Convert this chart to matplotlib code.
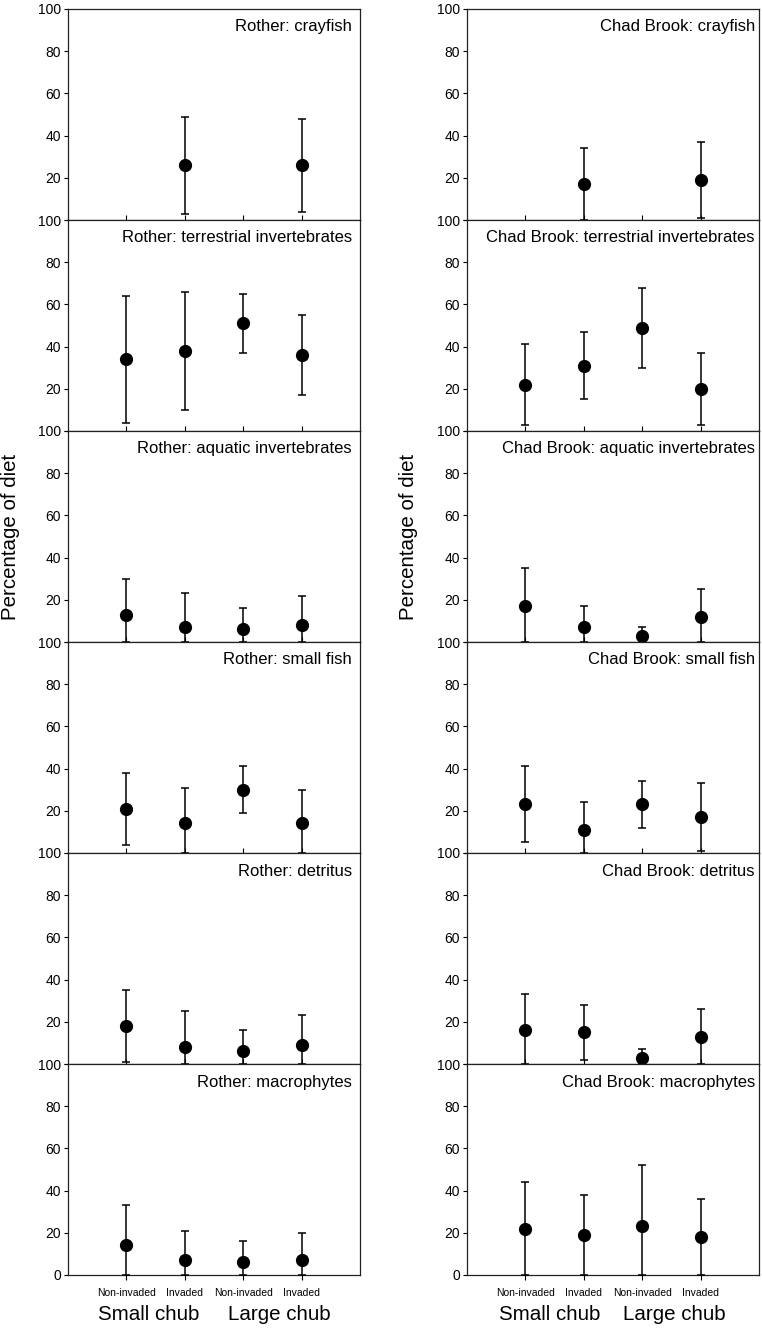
import numpy as np
import matplotlib
matplotlib.use("Agg")
import matplotlib.pyplot as plt

plt.rcParams['font.family'] = ['Liberation Sans', 'DejaVu Sans']

# ---------------- data ----------------
groups = ["Non-invaded", "Invaded", "Non-invaded", "Invaded"]
size_classes = ["Small chub", "Large chub"]
diet_items = ["crayfish", "terrestrial invertebrates", "aquatic invertebrates",
              "small fish", "detritus", "macrophytes"]
rivers = ["Rother", "Chad Brook"]

# mean, lower bound, upper bound (None = not present)
rother_mean = [[None, 26, None, 26], [34, 38, 51, 36], [13, 7, 6, 8],
               [21, 14, 30, 14], [18, 8, 6, 9], [14, 7, 6, 7]]
rother_low = [[None, 3, None, 4], [4, 10, 37, 17], [0, 0, 0, 0],
              [4, 0, 19, 0], [1, 0, 0, 0], [0, 0, 0, 0]]
rother_high = [[None, 49, None, 48], [64, 66, 65, 55], [30, 23, 16, 22],
               [38, 31, 41, 30], [35, 25, 16, 23], [33, 21, 16, 20]]

chad_mean = [[None, 17, None, 19], [22, 31, 49, 20], [17, 7, 3, 12],
             [23, 11, 23, 17], [16, 15, 3, 13], [22, 19, 23, 18]]
chad_low = [[None, 0, None, 1], [3, 15, 30, 3], [0, 0, 0, 0],
            [5, 0, 12, 1], [0, 2, 0, 0], [0, 0, 0, 0]]
chad_high = [[None, 34, None, 37], [41, 47, 68, 37], [35, 17, 7, 25],
             [41, 24, 34, 33], [33, 28, 7, 26], [44, 38, 52, 36]]

yticks = [0, 20, 40, 60, 80, 100]

# ---------------- layout ----------------
W, H = 762, 1328
fig = plt.figure(figsize=(W / 100, H / 100), dpi=100)

col_left = [68, 467]
col_width = 292
top0 = 9
panel_h = 211
title_pad = [8, 4]

data = [(rother_mean, rother_low, rother_high), (chad_mean, chad_low, chad_high)]
xpos = np.arange(1, len(groups) + 1)

for c, river in enumerate(rivers):
    means, lows, highs = data[c]
    for r, item in enumerate(diet_items):
        top = top0 + panel_h * r
        bottom_px = top + panel_h
        ax = fig.add_axes([col_left[c] / W, 1 - bottom_px / H,
                           col_width / W, panel_h / H])
        xs, ms, el, eh = [], [], [], []
        for i in range(len(groups)):
            m = means[r][i]
            if m is None:
                continue
            xs.append(xpos[i])
            ms.append(m)
            el.append(m - lows[r][i])
            eh.append(highs[r][i] - m)
        ax.errorbar(xs, ms, yerr=[el, eh], fmt='o', color='black',
                    ms=8.5, capsize=2.6, elinewidth=1.1, capthick=1.1,
                    clip_on=True, zorder=3)
        ax.set_xlim(0, 5)
        ax.set_ylim(0, 100)
        ax.set_yticks(yticks)
        last = (r == len(diet_items) - 1)
        if last:
            ax.set_yticklabels([str(v) for v in yticks])
        else:
            ax.set_yticklabels([''] + [str(v) for v in yticks[1:]])
        ax.set_xticks(xpos)
        if last:
            ax.set_xticklabels(groups, fontsize=7.5)
            ax.tick_params(axis='x', direction='out', length=3.5, width=0.8, pad=6)
        else:
            ax.set_xticklabels([])
            ax.tick_params(axis='x', direction='in', length=3.5, width=0.8)
        ax.tick_params(axis='y', direction='out', length=3, width=0.8,
                       labelsize=10, pad=2)
        for s in ax.spines.values():
            s.set_linewidth(0.9)
            s.set_color('#222222')
        ax.text(1 - title_pad[c] / col_width, 1 - 22.5 / panel_h,
                f"{river}: {item}", transform=ax.transAxes,
                ha='right', va='baseline', fontsize=12)

# size-class labels and y-axis labels via figure coordinates
size_label_x = [[149, 279], [550, 674]]
for c in range(2):
    for k, lab in enumerate(size_classes):
        fig.text(size_label_x[c][k] / W, 1 - 1315 / H, lab,
                 ha='center', va='center', fontsize=14.8)

ylabel_x = [11, 409]
for c in range(2):
    fig.text(ylabel_x[c] / W, 1 - 537 / H, "Percentage of diet",
             rotation=90, ha='center', va='center', fontsize=14.8)

fig.savefig("out.png", dpi=100)
